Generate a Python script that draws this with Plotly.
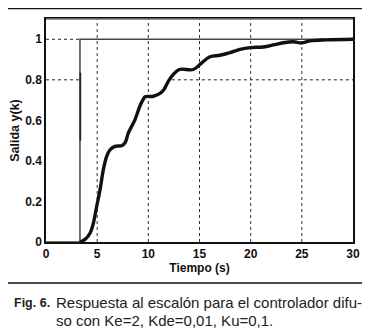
import plotly.graph_objects as go

# Data
ref_t = [0, 3.32, 3.32, 30]
ref_y = [0, 0, 1.0, 1.0]

spike_t = [3.36, 3.36]
spike_y = [0.5, 0.835]

resp_t = [3.32, 3.81, 4.3, 4.63, 4.95, 5.28, 5.6, 5.93, 6.26, 6.74, 7.4, 7.72, 8.05, 8.7, 9.19,
          9.5, 9.68, 10.49, 11.14, 11.53, 11.96, 12.45, 13.03, 14.4, 15.22, 16.03, 17.0, 17.99,
          18.96, 19.94, 21.24, 22.22, 23.2, 24.17, 25.0, 25.8, 27.44, 30.0]
resp_y = [0.0, 0.013, 0.043, 0.093, 0.175, 0.257, 0.356, 0.422, 0.455, 0.472, 0.475, 0.489, 0.538,
          0.604, 0.672, 0.703, 0.716, 0.719, 0.733, 0.752, 0.794, 0.827, 0.851, 0.851, 0.884,
          0.914, 0.921, 0.934, 0.95, 0.959, 0.962, 0.972, 0.983, 0.988, 0.982, 0.992, 0.997, 1.0]

x_ticks = [0, 5, 10, 15, 20, 25, 30]
y_ticks = [0, 0.2, 0.4, 0.6, 0.8, 1]
y_tick_text = ["0", "0.2", "0.4", "0.6", "0.8", "1"]

fig = go.Figure()
fig.add_trace(go.Scatter(x=ref_t, y=ref_y, mode="lines",
                         line=dict(color="#444444", width=1.5), showlegend=False))
fig.add_trace(go.Scatter(x=spike_t, y=spike_y, mode="lines",
                         line=dict(color="#222222", width=1.6), showlegend=False))
fig.add_trace(go.Scatter(x=resp_t, y=resp_y, mode="lines", line_shape="spline",
                         line=dict(color="#111111", width=3.4), showlegend=False))

shapes = []
for xv in x_ticks[1:-1]:
    shapes.append(dict(type="line", xref="x", yref="paper", x0=xv, x1=xv, y0=0, y1=1,
                       line=dict(color="#333333", width=1, dash="dot"), layer="below"))
shapes.append(dict(type="line", xref="x", yref="y", x0=0, x1=ref_t[1], y0=1, y1=1,
                   line=dict(color="#222222", width=1, dash="dot"), layer="below"))
shapes.append(dict(type="line", xref="x", yref="y", x0=0, x1=ref_t[1], y0=0.8, y1=0.8,
                   line=dict(color="#222222", width=1, dash="dot"), layer="below"))
shapes.append(dict(type="line", xref="x", yref="y", x0=12.3, x1=30, y0=0.8, y1=0.8,
                   line=dict(color="#222222", width=1, dash="dot"), layer="below"))
# top edge of the plot frame is lighter in the reference
shapes.append(dict(type="line", xref="paper", yref="paper", x0=0, x1=1, y0=1, y1=1,
                   line=dict(color="#777777", width=1.5)))
shapes.append(dict(type="rect", xref="paper", yref="paper", x0=-0.137, x1=1.042,
                   y0=-0.184, y1=1.047, line=dict(color="#111111", width=1.5)))

cap_font = dict(size=15, color="#222222", family="Liberation Sans, Arial, sans-serif")

fig.update_layout(
    width=362, height=325,
    margin=dict(l=38, r=17, t=11, b=91, autoexpand=False),
    paper_bgcolor="white", plot_bgcolor="white",
    font=dict(family="Liberation Sans, Arial, sans-serif", color="#111111"),
    shapes=shapes,
    xaxis=dict(range=[0, 30], tickvals=x_ticks, showgrid=False, zeroline=False,
               showline=True, linecolor="#111111", linewidth=1.5, mirror=True,
               ticks="", automargin=False,
               tickfont=dict(size=12, family="Liberation Sans", weight="bold"),
               title=dict(text="<b>Tiempo (s)</b>", font=dict(size=12), standoff=2)),
    yaxis=dict(range=[0, 1.1], tickvals=y_ticks, ticktext=y_tick_text, showgrid=False,
               zeroline=False, showline=True, linecolor="#111111", linewidth=1.5, mirror=True,
               ticks="", automargin=False,
               tickfont=dict(size=12, family="Liberation Sans", weight="bold"),
               title=dict(text="<b>Salida y(k)</b>", font=dict(size=12.5), standoff=4)),
    annotations=[
        dict(text="<b>Fig. 6.</b>", xref="paper", yref="paper", x=-0.1107, y=-0.2735,
             xanchor="left", yanchor="middle", showarrow=False,
             font=dict(size=12.5, color="#222222", family="Liberation Sans, Arial, sans-serif")),
        dict(text="Respuesta al escalón para el controlador difu-", xref="paper", yref="paper",
             x=0.026, y=-0.2735, xanchor="left", yanchor="middle", showarrow=False,
             font=cap_font),
        dict(text="so con Ke=2, Kde=0,01, Ku=0,1.", xref="paper", yref="paper",
             x=0.026, y=-0.3498, xanchor="left", yanchor="middle", showarrow=False,
             font=cap_font),
    ],
)

fig.write_html("out.html")
